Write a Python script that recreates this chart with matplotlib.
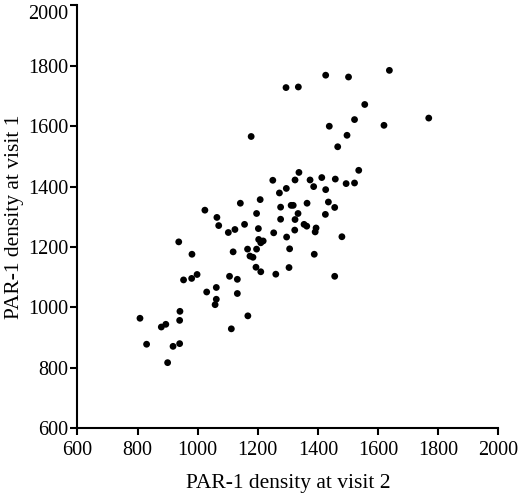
import matplotlib

matplotlib.use("Agg")
import matplotlib.pyplot as plt

# PAR-1 density, visit 2 (x) vs visit 1 (y)
visit2 = [
    1294, 1335, 1178, 1024, 1064, 1250, 1272, 1295, 1324, 1337,
    1142, 1208, 1196, 1276, 1311, 1318, 1334, 1276, 1324, 1426,
    1502, 1638, 1556, 1522, 1438, 1620, 1769, 1497, 1466, 1536,
    1374, 1413, 1386, 1426, 1458, 1494, 1522, 1364, 1435, 1456,
    1425, 1070, 1156, 1102, 1124, 1202, 1203, 1210, 1218, 1253,
    1323, 1296, 1306, 1304, 1260, 1196, 1166, 1174, 1184, 1118,
    1194, 1210, 1106, 1132, 1132, 1167, 1112, 937, 981, 953,
    980, 998, 1030, 1062, 1062, 1058, 941, 940, 808, 879,
    894, 830, 918, 940, 900, 1354, 1363, 1394, 1391, 1480,
    1388, 1456,
]
visit1 = [
    1728, 1730, 1566, 1322, 1298, 1421, 1379, 1394, 1422, 1447,
    1345, 1357, 1311, 1332, 1338, 1338, 1311, 1292, 1291, 1769,
    1763, 1785, 1672, 1622, 1600, 1603, 1627, 1570, 1532, 1454,
    1422, 1430, 1400, 1390, 1425, 1410, 1412, 1345, 1349, 1331,
    1308, 1271, 1275, 1248, 1258, 1261, 1225, 1214, 1220, 1247,
    1256, 1233, 1194, 1132, 1110, 1193, 1193, 1170, 1166, 1184,
    1133, 1118, 1103, 1093, 1046, 972, 929, 1217, 1176, 1091,
    1096, 1109, 1051, 1066, 1027, 1009, 987, 957, 964, 935,
    944, 878, 871, 880, 817, 1275, 1269, 1263, 1250, 1234,
    1176, 1103,
]

x_ticks = [600, 800, 1000, 1200, 1400, 1600, 1800, 2000]
y_ticks = [600, 800, 1000, 1200, 1400, 1600, 1800, 2000]
x_label = "PAR-1 density at visit 2"
y_label = "PAR-1 density at visit 1"

plt.rcParams["font.family"] = ["Liberation Serif", "DejaVu Serif"]

fig = plt.figure(figsize=(5.2, 4.95), dpi=100)
ax = fig.add_axes([0.149, 0.135, 0.809, 0.854])

ax.scatter(visit2, visit1, s=24, color="black", edgecolors="none")

ax.set_xlim(600, 2000)
ax.set_ylim(600, 2000)
ax.set_xticks(x_ticks)
ax.set_yticks(y_ticks)
ax.tick_params(direction="out", length=5, width=1.5, labelsize=14.5, color="black")
ax.tick_params(axis="x", pad=4.5)
ax.tick_params(axis="y", pad=1.5)

# top label sits just under the axis end so it is not cut at the edge
ax.get_yticklabels()[-1].set_verticalalignment("top")

for side in ["top", "right"]:
    ax.spines[side].set_visible(False)
for side in ["left", "bottom"]:
    ax.spines[side].set_linewidth(1.5)

ax.set_xlabel(x_label, fontsize=15.5, labelpad=10)
ax.set_ylabel(y_label, fontsize=15.5, labelpad=3)

fig.savefig("out.png", dpi=100)
